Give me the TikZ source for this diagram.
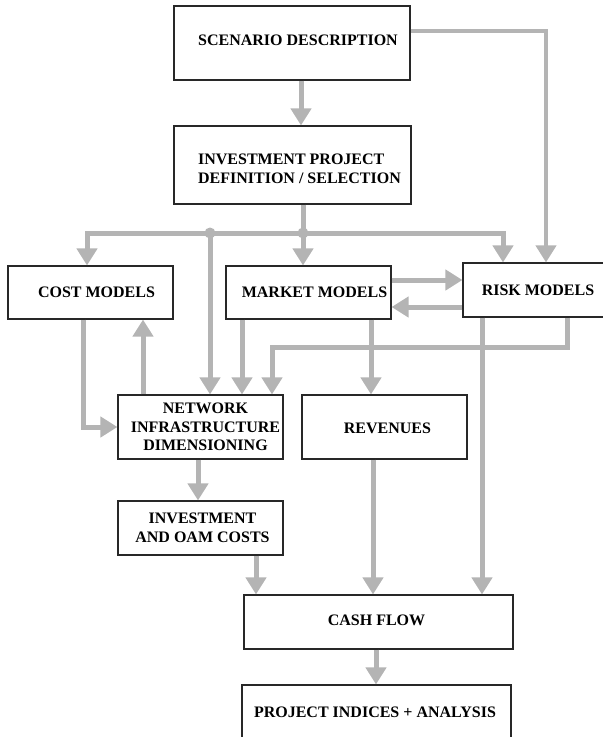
\documentclass[tikz,border=0pt]{standalone}
\usepackage{fontspec}
\setmainfont{Liberation Serif}
\usetikzlibrary{arrows.meta}
\definecolor{conngray}{RGB}{180,180,180}
\definecolor{boxline}{RGB}{40,40,40}
\begin{document}
\begin{tikzpicture}[x=1pt,y=-1pt,
  box/.style={draw=boxline,line width=1.1pt,fill=white,rectangle,inner sep=0pt},
  txt/.style={inner sep=0pt,align=center,font=\fontsize{16}{18.5}\selectfont\bfseries},
  conn/.style={draw=conngray,line width=5pt,line join=miter},
  arr/.style={conn,-{Triangle[width=20pt,length=17pt]}},
  thinarr/.style={draw=conngray,line width=4pt,line join=miter,-{Triangle[width=20pt,length=17pt]}},
  jdot/.style={fill=conngray,circle,inner sep=0pt,minimum size=11pt}]
\useasboundingbox (0,0) rectangle (603,737);
% boxes
\node[box,minimum width=236pt,minimum height=74pt,label={[txt,xshift=6pt,yshift=3pt]center:SCENARIO DESCRIPTION}] (scen) at (292,43) {};
\node[box,minimum width=237pt,minimum height=78pt,label={[txt,align=left,xshift=7pt,yshift=-4pt]center:INVESTMENT PROJECT\\DEFINITION / SELECTION}] (inv) at (292.5,165) {};
\node[box,minimum width=165pt,minimum height=53pt,label={[txt,xshift=6pt]center:COST MODELS}] (cost) at (90.5,292.5) {};
\node[box,minimum width=165pt,minimum height=53pt,label={[txt,xshift=6pt]center:MARKET MODELS}] (mkt) at (308.5,292.5) {};
\node[box,minimum width=150pt,minimum height=54pt,label={[txt]center:RISK MODELS}] (risk) at (538,290) {};
\node[box,minimum width=165pt,minimum height=64pt,label={[txt,xshift=5pt]center:NETWORK\\INFRASTRUCTURE\\DIMENSIONING}] (net) at (200.5,427) {};
\node[box,minimum width=165pt,minimum height=64pt,label={[txt,xshift=3pt,yshift=-1pt]center:REVENUES}] (rev) at (384.5,427) {};
\node[box,minimum width=165pt,minimum height=54pt,label={[txt,xshift=2pt]center:INVESTMENT\\AND OAM COSTS}] (oam) at (200.5,528) {};
\node[box,minimum width=269pt,minimum height=54pt,label={[txt,xshift=-2pt,yshift=2pt]center:CASH FLOW}] (cash) at (378.5,622) {};
\node[box,minimum width=269pt,minimum height=56pt,label={[txt,xshift=-1.5pt,yshift=1pt]center:PROJECT INDICES + ANALYSIS}] (proj) at (376.5,713) {};
% helper coordinates
\coordinate (X301) at (301,0);
\coordinate (C1) at (546,31);
\coordinate (J1) at (210,233);
\coordinate (J2) at (303,233);
\coordinate (X87) at (87,0);
\coordinate (X503) at (503,0);
\coordinate (Y280) at (0,280);
\coordinate (Y307) at (0,307);
\coordinate (X242) at (242,0);
\coordinate (X567) at (567,0);
\coordinate (K) at (272,347);
\coordinate (X83) at (83,0);
\coordinate (X143) at (143,0);
\coordinate (X371) at (371,0);
\coordinate (X482) at (482,0);
\coordinate (X198) at (198,0);
\coordinate (X256) at (256,0);
\coordinate (X373) at (373,0);
\coordinate (X376) at (376,0);
% connectors
\draw[arr] (scen.south -| X301) -- (inv.north -| X301);
\draw[thinarr] (scen.east |- C1) -- (C1) -- (risk.north -| C1);
\draw[conn] (inv.south -| J2) -- (J2);
\draw[conn] (J2) -- (J1);
\draw[arr] (J1) -| (cost.north -| X87);
\draw[arr] (J2) -| (risk.north -| X503);
\draw[arr] (J2) -- (mkt.north -| J2);
\draw[arr] (J1) -- (net.north -| J1);
\draw[arr] (mkt.east |- Y280) -- (risk.west |- Y280);
\draw[arr] (risk.west |- Y307) -- (mkt.east |- Y307);
\draw[arr] (mkt.south -| X242) -- (net.north -| X242);
\draw[arr] (risk.south -| X567) |- (K) -- (net.north -| K);
\draw[arr] (cost.south -| X83) |- (net.west);
\draw[arr] (net.north -| X143) -- (cost.south -| X143);
\draw[arr] (mkt.south -| X371) -- (rev.north -| X371);
\draw[arr] (risk.south -| X482) -- (cash.north -| X482);
\draw[arr] (net.south -| X198) -- (oam.north -| X198);
\draw[arr] (oam.south -| X256) -- (cash.north -| X256);
\draw[arr] (rev.south -| X373) -- (cash.north -| X373);
\draw[arr] (cash.south -| X376) -- (proj.north -| X376);
% junction dots
\node[jdot] (d1) at (J1) {};
\node[jdot] (d2) at (J2) {};
\end{tikzpicture}
\end{document}
